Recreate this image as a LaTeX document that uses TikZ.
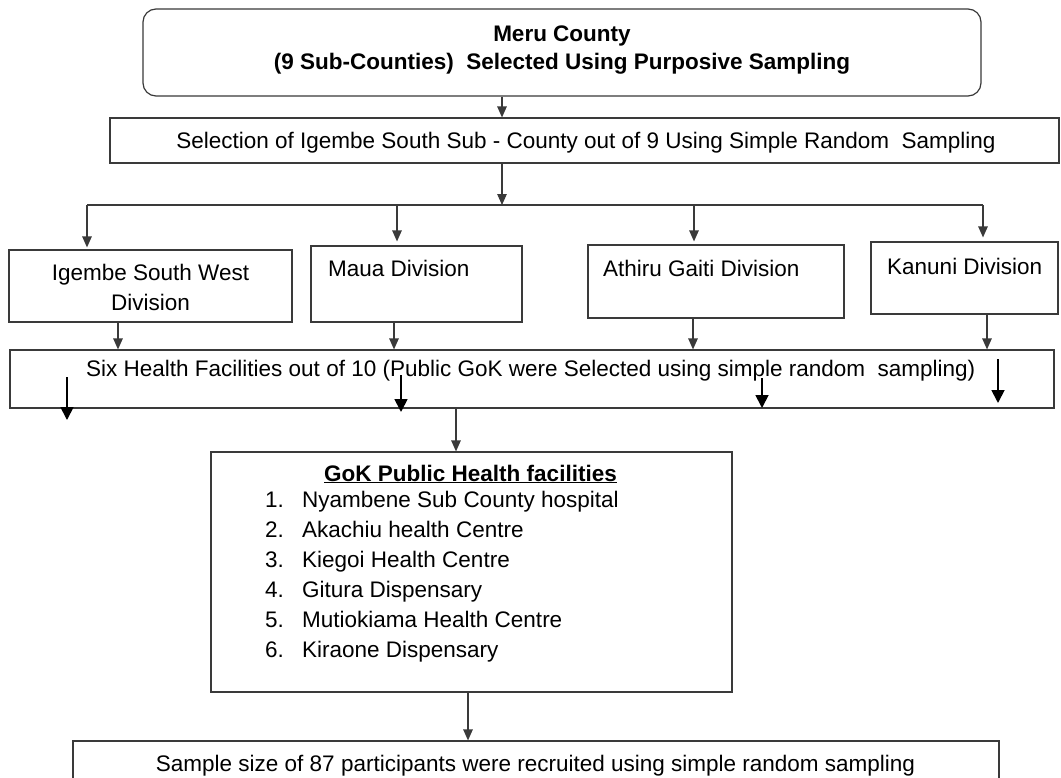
\documentclass[tikz,border=0pt]{standalone}
\usepackage{fontspec}
\setmainfont{Liberation Sans}
\usetikzlibrary{arrows.meta}
\definecolor{lc}{HTML}{3A3A3A}
\begin{document}
\begin{tikzpicture}[x=1pt,y=-1pt,
  every node/.style={font=\fontsize{22.5}{30}\selectfont, text=black},
  box/.style={draw=lc, line width=1.2pt, inner sep=0pt, rectangle},
  arr/.style={draw=lc, line width=1.2pt, -{Triangle[length=11pt,width=9.5pt]}},
  barr/.style={draw=black, line width=1.8pt, -{Triangle[length=13pt,width=13pt]}},
  lbl/.style={anchor=base west, inner sep=0pt},
  cen/.style={anchor=base, inner sep=0pt}]
\path[use as bounding box] (0,0) rectangle (1061,777);
\clip (0,0) rectangle (1061,777);
\fill[white] (0,0) rectangle (1061,777);

% boxes
\node[box, rounded corners=13pt, minimum width=838pt, minimum height=87pt] (top) at (562,52.5) {};
\node[align=center, inner sep=0pt, font=\bfseries\fontsize{22.5}{28}\selectfont] (topt) at (562,50) {Meru County\\(9 Sub-Counties)\ \ Selected Using Purposive Sampling};

\node[box, minimum width=949pt, minimum height=45pt] (sel) at (584.5,140.5) {};
\node[cen] (selt) at (586,148) {Selection of Igembe South Sub - County out of 9 Using Simple Random\ \ Sampling};

\node[box, minimum width=283pt, minimum height=72pt] (d1) at (150.5,286) {};
\node[align=center, inner sep=0pt] (d1t) at (150.5,287) {Igembe South West\\Division};
\node[box, minimum width=211pt, minimum height=76pt] (d2) at (416.5,284) {};
\node[lbl] (d2t) at (328,276) {Maua Division};
\node[box, minimum width=256pt, minimum height=73pt] (d3) at (716,281.5) {};
\node[lbl] (d3t) at (603,276) {Athiru Gaiti Division};
\node[box, minimum width=187pt, minimum height=72pt] (d4) at (964.5,278) {};
\node[lbl] (d4t) at (887,274) {Kanuni Division};

\node[box, minimum width=1044pt, minimum height=58pt] (six) at (532,379) {};
\node[lbl] (sixt) at (86,376) {Six Health Facilities out of 10 (Public GoK were Selected using simple random\ \ sampling)};

\node[box, minimum width=521pt, minimum height=240pt] (gok) at (471.5,572) {};
\node[cen, font=\bfseries\fontsize{22.5}{30}\selectfont] (gokt) at (470.5,481) {\underline{GoK Public Health facilities}};
\foreach \i/\t in {1/Nyambene Sub County hospital, 2/Akachiu health Centre, 3/Kiegoi Health Centre, 4/Gitura Dispensary, 5/Mutiokiama Health Centre, 6/Kiraone Dispensary}{
  \node[lbl] (n\i) at (265,477+30*\i) {\i.};
  \node[lbl] (f\i) at (302,477+30*\i) {\t};
}

\node[box, minimum width=926pt, minimum height=60pt] (smp) at (536,771) {};
\node[cen] (smpt) at (535.5,771) {Sample size of 87 participants were recruited using simple random sampling};

% connectors
\draw[arr] ([xshift=-60pt]top.south) -- ([xshift=-82.5pt]sel.north);
\coordinate (br) at (502,205);
\coordinate (bl) at (87,205);
\coordinate (b2) at (397,205);
\coordinate (b3) at (694,205);
\coordinate (brr) at (983,205);
\draw[arr] ([xshift=-82.5pt]sel.south) -- (br);
\draw[draw=lc, line width=1.2pt] (bl) -- (brr);
\draw[arr, shorten >=2pt] (bl) -- (bl |- d1.north);
\draw[arr, shorten >=4pt] (b2) -- (b2 |- d2.north);
\draw[arr, shorten >=3pt] (b3) -- (b3 |- d3.north);
\draw[arr, shorten >=4pt] (brr) -- (brr |- d4.north);

\draw[arr] ([xshift=-32.5pt]d1.south) -- ([xshift=-32.5pt]d1.south |- six.north);
\draw[arr] ([xshift=-22.5pt]d2.south) -- ([xshift=-22.5pt]d2.south |- six.north);
\draw[arr] ([xshift=-23pt]d3.south) -- ([xshift=-23pt]d3.south |- six.north);
\draw[arr] ([xshift=22.5pt]d4.south) -- ([xshift=22.5pt]d4.south |- six.north);

\coordinate (i1s) at (67,377);  \coordinate (i1e) at (67,420);
\coordinate (i2s) at (401,375); \coordinate (i2e) at (401,412);
\coordinate (i3s) at (762,378); \coordinate (i3e) at (762,408);
\coordinate (i4s) at (998,359); \coordinate (i4e) at (998,403);
\draw[barr] (i1s) -- (i1e);
\draw[barr] (i2s) -- (i2e);
\draw[barr] (i3s) -- (i3e);
\draw[barr] (i4s) -- (i4e);

\draw[arr] ([xshift=-76pt]six.south) -- ([xshift=-15.5pt]gok.north);
\draw[arr] ([xshift=-3.5pt]gok.south) -- ([xshift=-68pt]smp.north);
\end{tikzpicture}
\end{document}
